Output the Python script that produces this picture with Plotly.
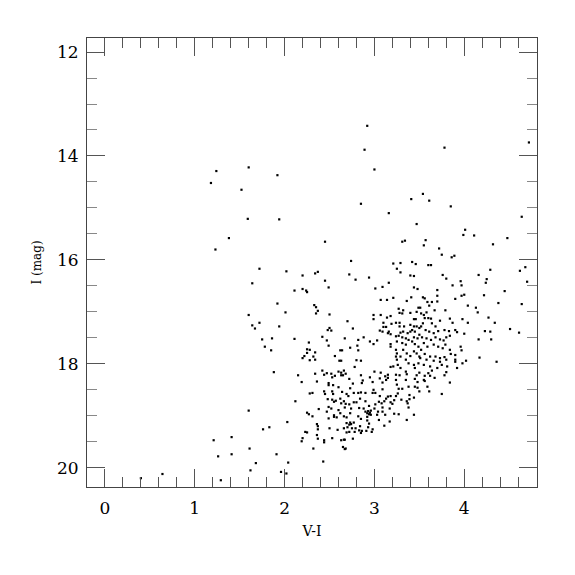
import plotly.graph_objects as go

# (V-I, I) pairs, grouped by region
sparse_blue = [
    (2.92, 13.42), (2.89, 13.88), (3.00, 14.26), (3.41, 14.83), (2.85, 14.92), (3.16, 15.10),
    (3.47, 15.31), (2.45, 15.65), (3.31, 15.65), (3.34, 15.63),
    (1.60, 14.22), (1.24, 14.29), (1.92, 14.37), (1.18, 14.52), (1.52, 14.65), (1.59, 15.21),
    (1.94, 15.22), (1.38, 15.58), (1.23, 15.80),
    (1.72, 16.17), (2.02, 16.22), (1.64, 16.45), (2.11, 16.59), (1.92, 16.84), (2.01, 17.01),
    (1.60, 17.06), (1.64, 17.26), (1.72, 17.21), (1.67, 17.32), (1.94, 17.28), (1.75, 17.53),
    (1.86, 17.51), (2.11, 17.52), (1.78, 17.67), (1.85, 17.74),
    (1.88, 18.16), (2.15, 18.22), (2.12, 18.72), (1.60, 18.90), (2.03, 19.12), (1.76, 19.26),
    (1.83, 19.22), (1.21, 19.47), (1.41, 19.41), (1.61, 19.63), (1.26, 19.78), (1.41, 19.74),
    (1.91, 19.74), (1.68, 19.91), (2.04, 19.90), (1.62, 20.05), (1.96, 20.08), (2.02, 20.11),
    (1.29, 20.24), (0.40, 20.20), (0.64, 20.12),
]

sparse_red = [
    (4.72, 13.74), (3.78, 13.84), (3.54, 14.73), (3.61, 14.86), (3.85, 14.97), (4.64, 15.17),
    (4.01, 15.42), (3.99, 15.52), (4.11, 15.53), (4.48, 15.58), (3.57, 15.62), (3.55, 15.72),
    (4.32, 15.70), (3.72, 15.78),
    (3.75, 15.90), (3.86, 15.95), (3.89, 15.92), (3.60, 16.10), (3.63, 16.10), (4.29, 16.19),
    (4.68, 16.14), (4.62, 16.21), (3.76, 16.29), (3.80, 16.36), (4.16, 16.29), (4.25, 16.37),
    (4.24, 16.44), (4.70, 16.42), (3.87, 16.49), (3.96, 16.41), (3.97, 16.49), (3.70, 16.58),
    (4.45, 16.60), (3.97, 16.69), (4.00, 16.67), (3.70, 16.69), (4.22, 16.68), (3.90, 16.75),
    (3.54, 16.72), (3.56, 16.74), (3.70, 16.80), (3.59, 16.81), (3.64, 16.81), (4.38, 16.83),
    (4.64, 16.85), (4.04, 16.88), (3.61, 16.88), (4.13, 16.92), (3.79, 16.97), (3.67, 16.97),
    (4.15, 17.01), (4.27, 17.11), (4.04, 17.21), (4.34, 17.21), (4.51, 17.33), (4.61, 17.40),
    (4.23, 17.37), (4.29, 17.38), (4.16, 17.53), (4.30, 17.53), (4.17, 17.88), (4.36, 17.96),
    (4.02, 17.94),
]

upper_branch = [
    (2.74, 16.02), (2.20, 16.30), (2.34, 16.26), (2.37, 16.23), (2.72, 16.28), (2.79, 16.38),
    (2.94, 16.34), (3.21, 16.07), (3.29, 16.06), (3.42, 16.04), (3.46, 16.08), (3.25, 16.17),
    (3.29, 16.24), (3.40, 16.30), (3.44, 16.31), (2.45, 16.40), (3.16, 16.44), (2.49, 16.53),
    (2.20, 16.56), (2.24, 16.59), (2.25, 16.62), (3.01, 16.55), (3.09, 16.52), (3.21, 16.73),
    (3.44, 16.53), (3.48, 16.56), (3.07, 16.77), (3.14, 16.77), (3.36, 16.79), (3.41, 16.72),
    (2.33, 16.87), (2.35, 16.91), (2.37, 16.98), (2.35, 17.03), (2.50, 17.05), (2.99, 17.06),
    (2.99, 17.14), (3.07, 17.06), (3.14, 17.11), (3.18, 17.08), (3.27, 16.94), (3.32, 16.97),
    (3.28, 17.02), (3.31, 17.03), (3.40, 17.02), (3.47, 17.00), (3.49, 16.92), (2.70, 17.18),
    (2.50, 17.31), (2.52, 17.36), (2.48, 17.35), (2.76, 17.32), (3.10, 17.21), (3.19, 17.23),
    (3.13, 17.29), (3.10, 17.29), (3.06, 17.36), (3.09, 17.38), (3.16, 17.38), (3.15, 17.41),
    (3.18, 17.43), (3.24, 17.21), (3.28, 17.21), (3.28, 17.28), (3.33, 17.28), (3.40, 17.25),
    (3.44, 17.28), (3.47, 17.28), (3.46, 17.14), (3.44, 17.14), (2.42, 17.48), (2.67, 17.51),
    (2.88, 17.49), (2.95, 17.57), (2.99, 17.62), (3.03, 17.55), (2.47, 17.55), (2.49, 17.65),
    (2.27, 17.59), (2.82, 17.54), (2.81, 17.65), (2.73, 17.69), (2.62, 17.74), (2.64, 17.74),
    (2.82, 17.74), (3.18, 17.67), (3.18, 17.62), (2.25, 17.72), (2.28, 17.73), (2.25, 17.79),
    (2.34, 17.78), (2.22, 17.85), (2.20, 17.89), (2.32, 17.86), (2.28, 17.93), (2.34, 17.92),
    (2.56, 17.85), (2.61, 17.94), (2.63, 17.94), (2.80, 17.93), (2.85, 17.94), (2.78, 18.06),
    (3.24, 17.47), (3.27, 17.46), (3.31, 17.49), (3.35, 17.51), (3.38, 17.54), (3.44, 17.49),
    (3.48, 17.51), (3.50, 17.44), (3.25, 17.57), (3.31, 17.60), (3.35, 17.63), (3.42, 17.57),
    (3.45, 17.62), (3.49, 17.67), (3.24, 17.73), (3.25, 17.80), (3.24, 17.86), (3.25, 17.92),
    (3.26, 18.02), (3.29, 17.86), (3.32, 17.73), (3.36, 17.80), (3.40, 17.85), (3.44, 17.76),
    (3.47, 17.80), (3.50, 17.86), (3.35, 17.92), (3.38, 17.99), (3.44, 18.02), (3.49, 17.99),
    (3.18, 18.06), (3.21, 18.05), (3.29, 18.08), (3.45, 18.08), (3.42, 17.35), (3.45, 17.38),
    (3.50, 17.31), (3.37, 17.41), (3.40, 17.38), (3.32, 17.38), (3.29, 17.40),
]

red_clump = [
    (3.51, 16.92), (3.52, 17.03), (3.55, 17.06), (3.58, 17.01), (3.56, 17.12), (3.60, 17.12),
    (3.63, 17.13), (3.54, 17.22), (3.64, 17.22), (3.68, 17.28), (3.73, 17.17), (3.78, 17.35),
    (3.83, 17.37), (3.90, 17.35), (3.92, 17.39), (3.84, 17.13), (3.87, 17.21), (3.98, 17.14),
    (4.00, 17.42), (3.52, 17.28), (3.57, 17.35), (3.61, 17.38), (3.66, 17.41), (3.71, 17.37),
    (3.53, 17.49), (3.58, 17.51), (3.63, 17.54), (3.68, 17.49), (3.73, 17.53), (3.77, 17.55),
    (3.80, 17.49), (3.84, 17.46), (3.55, 17.60), (3.59, 17.67), (3.66, 17.63), (3.71, 17.67),
    (3.76, 17.70), (3.79, 17.63), (3.84, 17.73), (3.52, 17.73), (3.56, 17.81), (3.62, 17.86),
    (3.68, 17.86), (3.73, 17.89), (3.78, 17.87), (3.66, 17.94), (3.73, 17.96), (3.80, 17.92),
    (3.90, 17.83), (3.90, 17.92), (3.90, 17.96), (3.96, 17.67), (3.97, 17.74), (3.55, 18.02),
    (3.62, 18.05), (3.75, 18.02), (3.70, 18.08), (3.81, 18.05), (3.92, 18.08), (3.98, 17.99),
    (3.85, 17.81), (3.51, 17.89), (3.58, 17.92),
    (3.56, 18.23), (3.60, 18.18), (3.62, 18.23), (3.64, 18.13), (3.55, 18.31), (3.56, 18.33),
    (3.67, 18.27), (3.59, 18.44), (3.61, 18.53), (3.75, 18.58), (3.78, 18.22), (3.80, 18.16),
    (3.84, 18.36),
]

lower_branch = [
    (2.42, 18.13), (2.66, 18.13), (2.68, 18.19), (2.60, 18.15), (2.63, 18.17), (2.63, 18.22),
    (2.65, 18.22), (2.85, 18.22), (3.00, 18.15), (3.07, 18.17), (3.12, 18.24), (3.15, 18.21),
    (3.15, 18.27), (3.24, 18.21), (3.28, 18.22), (3.35, 18.15), (3.36, 18.20), (3.47, 18.22),
    (3.50, 18.17), (2.52, 18.19), (2.47, 18.18), (2.44, 18.21), (2.34, 18.19), (2.56, 18.23),
    (2.53, 18.26), (2.95, 18.26), (3.06, 18.28),
    (2.19, 18.35), (2.36, 18.34), (2.49, 18.41), (2.54, 18.41), (2.49, 18.37), (2.72, 18.29),
    (2.76, 18.38), (2.86, 18.37), (2.87, 18.32), (2.98, 18.35), (3.09, 18.36), (3.13, 18.31),
    (3.24, 18.31), (3.25, 18.40), (3.35, 18.31), (3.38, 18.44), (3.45, 18.44), (3.48, 18.35),
    (3.45, 18.29), (3.27, 18.48),
    (2.28, 18.57), (2.31, 18.56), (2.44, 18.53), (2.45, 18.58), (2.53, 18.53), (2.54, 18.58),
    (2.60, 18.45), (2.64, 18.54), (2.69, 18.58), (2.71, 18.62), (2.73, 18.47), (2.77, 18.56),
    (2.82, 18.56), (2.85, 18.55), (2.90, 18.56), (2.98, 18.56), (3.01, 18.56), (2.99, 18.50),
    (3.09, 18.49), (3.06, 18.62), (3.13, 18.67), (3.15, 18.63), (3.18, 18.62), (3.24, 18.62),
    (3.26, 18.57), (3.31, 18.48), (3.39, 18.60), (3.48, 18.46), (3.50, 18.53),
    (2.48, 18.68), (2.53, 18.69), (2.55, 18.73), (2.57, 18.71), (2.62, 18.67), (2.63, 18.76),
    (2.66, 18.72), (2.68, 18.77), (2.72, 18.78), (2.77, 18.74), (2.80, 18.74), (2.84, 18.67),
    (2.90, 18.72), (2.94, 18.81), (3.01, 18.78), (3.05, 18.73), (3.08, 18.76), (3.11, 18.72),
    (3.18, 18.74), (3.22, 18.70), (3.30, 18.69), (3.36, 18.72), (3.37, 18.76), (3.39, 18.68),
    (3.44, 18.65), (2.38, 18.87), (2.49, 18.83), (2.52, 18.86), (2.60, 18.89), (2.67, 18.84),
    (2.74, 18.86), (2.83, 18.85), (2.88, 18.86), (2.93, 18.91), (2.96, 18.90), (3.00, 18.86),
    (3.09, 18.84), (3.17, 18.86), (3.20, 18.77),
    (2.25, 18.94), (2.27, 18.97), (2.31, 19.01), (2.47, 18.92), (2.49, 19.05), (2.55, 18.99),
    (2.55, 19.02), (2.58, 19.03), (2.62, 18.95), (2.66, 19.01), (2.69, 19.03), (2.73, 18.95),
    (2.77, 19.13), (2.82, 19.01), (2.85, 19.06), (2.90, 18.92), (2.92, 18.95), (2.94, 18.97),
    (2.92, 19.02), (2.92, 19.09), (2.95, 18.94), (2.96, 18.98), (3.04, 18.92), (3.03, 18.98),
    (3.05, 19.08), (3.09, 18.92), (3.12, 18.98), (3.17, 19.11), (3.22, 18.96), (3.27, 18.97),
    (3.36, 19.08), (3.44, 18.98), (3.38, 18.84),
    (2.36, 19.16), (2.37, 19.20), (2.37, 19.26), (2.36, 19.37), (2.37, 19.44), (2.44, 19.47),
    (2.44, 19.51), (2.23, 19.31), (2.25, 19.32), (2.20, 19.43), (2.19, 19.49), (2.32, 19.63),
    (2.50, 19.24), (2.53, 19.43), (2.59, 19.27), (2.66, 19.24), (2.70, 19.22), (2.69, 19.14),
    (2.72, 19.17), (2.73, 19.13), (2.74, 19.16), (2.75, 19.24), (2.79, 19.24), (2.78, 19.31),
    (2.72, 19.31), (2.69, 19.32), (2.84, 19.20), (2.83, 19.28), (2.86, 19.29), (2.85, 19.33),
    (2.91, 19.29), (2.94, 19.15), (2.93, 19.22), (2.98, 19.26), (2.97, 19.31), (3.11, 19.19),
    (2.63, 19.47), (2.66, 19.46), (2.67, 19.46), (2.76, 19.44), (2.65, 19.60), (2.67, 19.64),
    (2.68, 19.63), (2.43, 19.88),
]

x_ticks = [0, 1, 2, 3, 4]
y_ticks = [12, 14, 16, 18, 20]

all_points = sparse_blue + sparse_red + upper_branch + red_clump + lower_branch
vi = [p[0] for p in all_points]
imag = [p[1] for p in all_points]

font_family = "DejaVu Serif"

fig = go.Figure(
    go.Scatter(
        x=vi, y=imag, mode="markers",
        marker=dict(symbol="square", size=2.2, color="black", line=dict(width=0)),
        hoverinfo="skip",
    )
)

axis_common = dict(
    showgrid=False, zeroline=False,
    showline=True, linecolor="#444", linewidth=1, mirror="ticks",
    ticks="inside", ticklen=18, tickwidth=1, tickcolor="#555",
    tickfont=dict(family=font_family, size=17, color="black"),
)

fig.update_xaxes(
    **axis_common,
    range=[-0.2, 4.81],
    tickvals=x_ticks, ticktext=[str(t) for t in x_ticks],
    ticklabelstandoff=6,
    minor=dict(dtick=0.2, tick0=0, ticks="inside", ticklen=10, tickcolor="#555", tickwidth=1),
    title=dict(text="V-I", font=dict(family=font_family, size=14, color="black"), standoff=8),
)
fig.update_yaxes(
    **axis_common,
    range=[20.37, 11.73],
    tickvals=y_ticks, ticktext=[str(t) for t in y_ticks],
    ticklabelstandoff=4,
    minor=dict(dtick=0.5, tick0=12, ticks="inside", ticklen=10, tickcolor="#888", tickwidth=1),
    title=dict(text="I (mag)", font=dict(family=font_family, size=12, color="black"), standoff=12),
)

fig.update_layout(
    width=575, height=575,
    margin=dict(l=79, r=46, t=30, b=96, autoexpand=False),
    plot_bgcolor="white", paper_bgcolor="white",
    showlegend=False,
)

fig.write_html("out.html")
